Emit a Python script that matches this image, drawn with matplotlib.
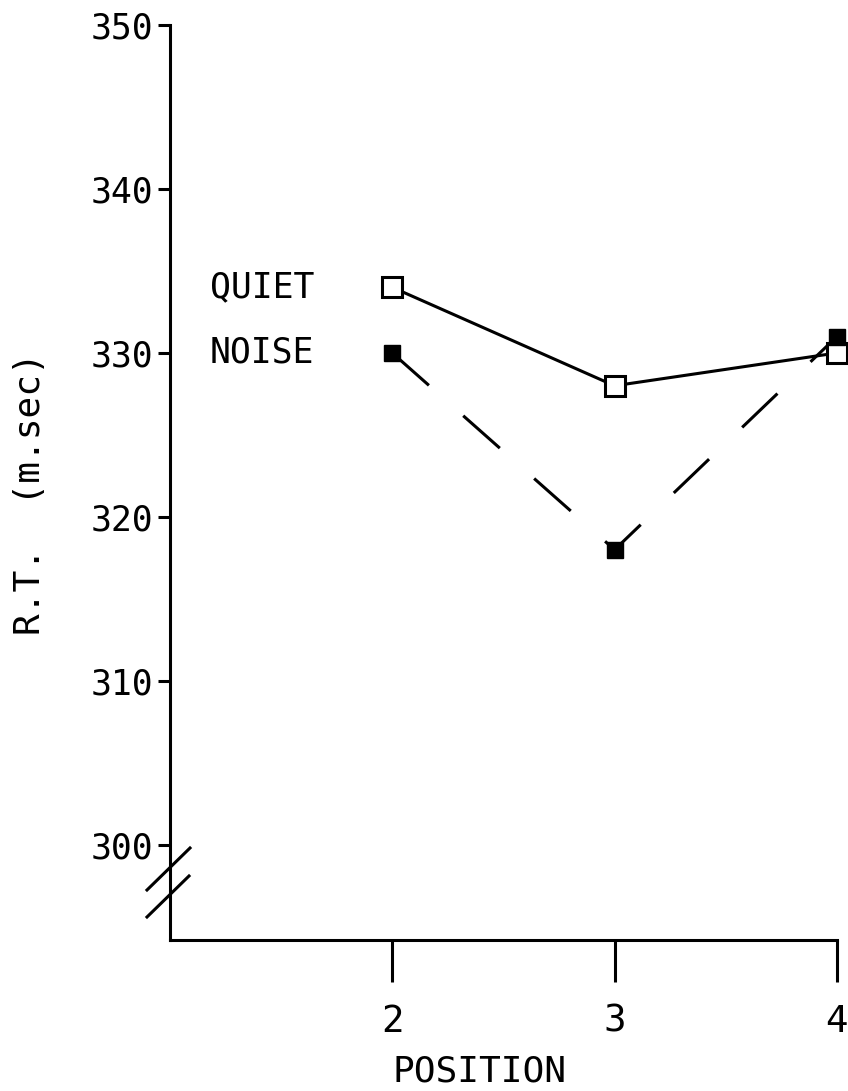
import matplotlib
matplotlib.use("Agg")
import matplotlib.pyplot as plt
from matplotlib.lines import Line2D

positions = [2, 3, 4]
quiet_rt = [334, 328, 330]
noise_rt = [330, 318, 331]
yticks = [300, 310, 320, 330, 340, 350]
xtick_labels = ["2", "3", "4"]

W, H = 848, 1091
fig = plt.figure(figsize=(W / 100, H / 100), dpi=100)
ax = fig.add_axes([170 / W, (H - 940) / H, (W - 170) / W, (940 - 25) / H])
ax.set_xlim(1.0, 4.05)
ax.set_ylim(294.2, 350)

font = "DejaVu Sans Mono"
lw = 2.2

ax.plot(positions, quiet_rt, color="black", lw=lw, marker="s", markersize=15,
        markerfacecolor="white", markeredgecolor="black", markeredgewidth=2.2,
        clip_on=False, zorder=3)
ax.plot(positions, noise_rt, color="black", lw=lw, dashes=(16, 15), marker="s",
        markersize=12, markerfacecolor="black", markeredgecolor="black",
        clip_on=False, zorder=4)

ax.spines["top"].set_visible(False)
ax.spines["right"].set_visible(False)
ax.spines["left"].set_linewidth(lw)
ax.spines["bottom"].set_linewidth(lw)
ax.spines["bottom"].set_bounds(1.0, 4.0)

ax.set_yticks(yticks)
ax.set_yticklabels([str(v) for v in yticks], fontfamily=font, fontsize=25)
ax.set_xticks(positions)
ax.set_xticklabels(xtick_labels, fontfamily=font, fontsize=27)
ax.tick_params(axis="y", direction="out", length=9, width=lw, pad=3)
ax.tick_params(axis="x", direction="out", length=30, width=lw, pad=16)

# series labels
ax.text(1.18, quiet_rt[0], "QUIET", fontfamily=font, fontsize=25,
        ha="left", va="center")
ax.text(1.18, noise_rt[0], "NOISE", fontfamily=font, fontsize=25,
        ha="left", va="center")

# axis break marks (figure pixel coords)
def px(x, y):
    return x / W, 1 - y / H

for (x0, y0, x1, y1) in [(147, 890, 190, 848), (147, 917, 189, 876)]:
    a, b = px(x0, y0)
    c, d = px(x1, y1)
    fig.add_artist(Line2D([a, c], [b, d], color="black", lw=lw))

fig.text(480 / W, 1 - 1072 / H, "POSITION", fontfamily=font, fontsize=26,
         ha="center", va="center")
fig.text(30 / W, 1 - 494 / H, "R.T.  (m.sec)", fontfamily=font, fontsize=26,
         ha="center", va="center", rotation=90)

fig.savefig("out.png", dpi=100)
